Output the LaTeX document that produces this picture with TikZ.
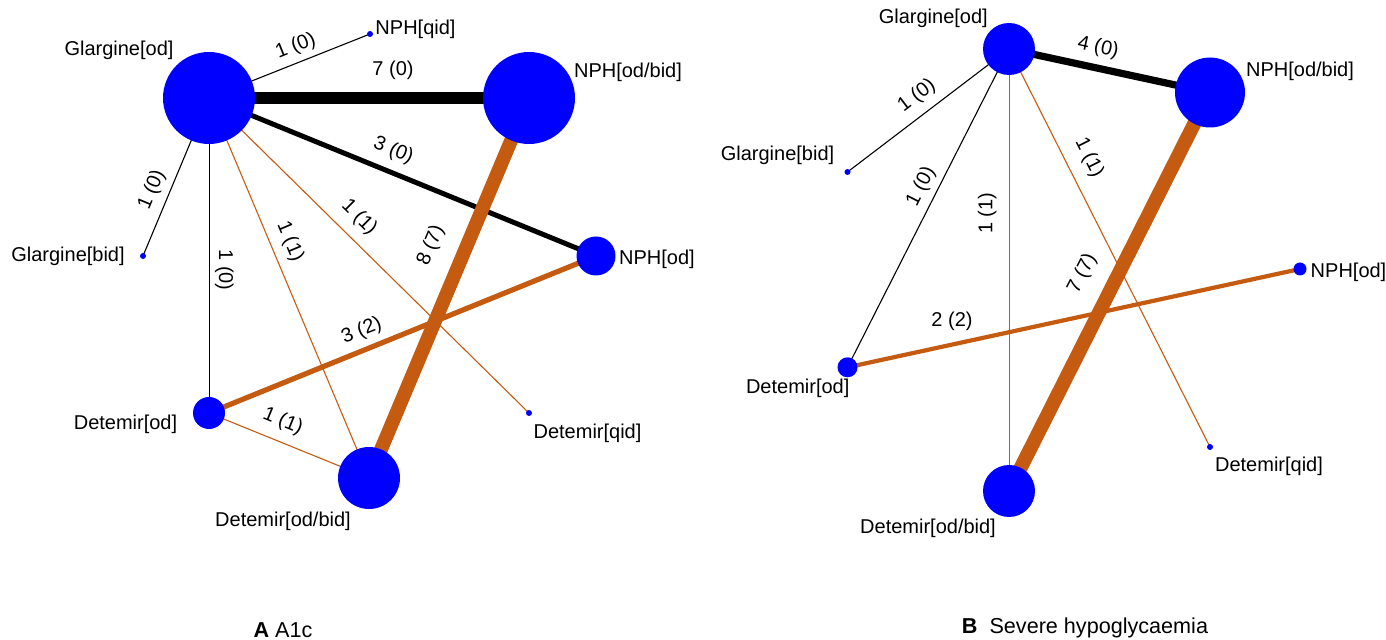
\documentclass[tikz,border=0pt]{standalone}
\usepackage{fontspec}
\setmainfont{Liberation Sans}
\usetikzlibrary{backgrounds}
\definecolor{nmorange}{RGB}{197,90,17}

\begin{document}
\begin{tikzpicture}[line cap=round,line join=round,x=0.5pt,y=-0.5pt,
	trt/.style={circle,fill=blue,inner sep=0pt,minimum size=#1},
	tname/.style={font=\fontsize{10}{12}\selectfont,text=black,inner sep=0pt},
	nstud/.style={font=\fontsize{10}{12}\selectfont,text=black,inner sep=0pt,sloped,above=#1},
	direct/.style={color=black,line width=#1},
	mixed/.style={color=nmorange,line width=#1}]
				\useasboundingbox (0,0) rectangle (1386,640);

				% A: A1c
				\node[trt=46pt] (Aglaod) at (209,98) {};
				\node[trt=3pt] (Anphqid) at (370,34) {};
				\node[trt=46pt] (Anphodbid) at (529,98) {};
				\node[trt=19.5pt] (Anphod) at (596,256) {};
				\node[trt=3pt] (Aglabid) at (143,256) {};
				\node[trt=16pt] (Adetod) at (209,413) {};
				\node[trt=31pt] (Adetodbid) at (369,478) {};
				\node[trt=3pt] (Adetqid) at (529,413) {};

				\node[tname] (lAglaod) at (119,50) {Glargine[od]};
				\node[tname] (lAnphqid) at (415.5,29.5) {NPH[qid]};
				\node[tname] (lAnphodbid) at (628,72.5) {NPH[od/bid]};
				\node[tname] (lAnphod) at (657,259.5) {NPH[od]};
				\node[tname] (lAglabid) at (68,256.5) {Glargine[bid]};
				\node[tname] (lAdetod) at (125.5,424) {Detemir[od]};
				\node[tname] (lAdetodbid) at (283,521) {Detemir[od/bid]};
				\node[tname] (lAdetqid) at (587.5,433) {Detemir[qid]};

				\begin{scope}[on background layer]
				\draw[direct=0.55pt] (Aglaod.center) -- (Anphqid.center) node[nstud=2.95pt,pos=0.575] {1 (0)};
				\draw[direct=6pt] (Aglaod.center) -- (Anphodbid.center) node[nstud=6pt,pos=0.575] {7 (0)};
				\draw[direct=2.5pt] (Aglaod.center) -- (Anphod.center) node[nstud=4.5pt,pos=0.456] {3 (0)};
				\draw[direct=0.55pt] (Aglaod.center) -- (Aglabid.center) node[nstud=3.65pt,pos=0.623] {1 (0)};
				\draw[direct=0.5pt] (Aglaod.center) -- (Adetod.center) node[nstud=2.8pt,pos=0.546] {1 (0)};
				\draw[mixed=0.55pt] (Aglaod.center) -- (Adetodbid.center) node[nstud=4.5pt,pos=0.397] {1 (1)};
				\draw[mixed=0.55pt] (Aglaod.center) -- (Adetqid.center) node[nstud=5.15pt,pos=0.425] {1 (1)};
				\draw[mixed=6.9pt] (Anphodbid.center) -- (Adetodbid.center) node[nstud=8.4pt,pos=0.422] {8 (7)};
				\draw[mixed=2.6pt] (Adetod.center) -- (Anphod.center) node[nstud=3.4pt,pos=0.413] {3 (2)};
				\draw[mixed=0.55pt] (Adetod.center) -- (Adetodbid.center) node[nstud=5.1pt,pos=0.414] {1 (1)};
				\end{scope}

				\node[font=\fontsize{10.8}{13}\selectfont] (capA) at (283,630) {\textbf{A} A1c};

				% B: severe hypoglycaemia
				\node[trt=26pt] (Bglaod) at (1009,49) {};
				\node[trt=35pt] (Bnphodbid) at (1210,92.5) {};
				\node[trt=3pt] (Bglabid) at (847.5,172) {};
				\node[trt=6.5pt] (Bnphod) at (1300,269) {};
				\node[trt=10pt] (Bdetod) at (847.5,367.3) {};
				\node[trt=26pt] (Bdetodbid) at (1009,491) {};
				\node[trt=3pt] (Bdetqid) at (1210,447) {};

				\node[tname] (lBglaod) at (933.3,18) {Glargine[od]};
				\node[tname] (lBnphodbid) at (1300,71.3) {NPH[od/bid]};
				\node[tname] (lBglabid) at (777.5,155.3) {Glargine[bid]};
				\node[tname] (lBnphod) at (1348.5,272.8) {NPH[od]};
				\node[tname] (lBdetod) at (797.7,388.7) {Detemir[od]};
				\node[tname] (lBdetodbid) at (928,528.7) {Detemir[od/bid]};
				\node[tname] (lBdetqid) at (1269,466.2) {Detemir[qid]};

				\begin{scope}[on background layer]
				\draw[direct=3.6pt] (Bglaod.center) -- (Bnphodbid.center) node[nstud=3.75pt,pos=0.422] {4 (0)};
				\draw[direct=0.55pt] (Bglaod.center) -- (Bglabid.center) node[nstud=4.15pt,pos=0.502] {1 (0)};
				\draw[direct=0.55pt] (Bglaod.center) -- (Bdetod.center) node[nstud=3.1pt,pos=0.455] {1 (0)};
				\draw[mixed=0.5pt] (Bdetodbid.center) -- (Bglaod.center) node[nstud=6pt,pos=0.628] {1 (1)};
				\draw[mixed=0.55pt] (Bglaod.center) -- (Bdetqid.center) node[nstud=6.15pt,pos=0.299] {1 (1)};
				\draw[mixed=7pt] (Bnphodbid.center) -- (Bdetodbid.center) node[nstud=8pt,pos=0.491] {7 (7)};
				\draw[mixed=2.1pt] (Bdetod.center) -- (Bnphod.center) node[tname,pos=0.231,above=6pt] {2 (2)};
				\end{scope}

				\node[font=\fontsize{10.8}{13}\selectfont] (capB) at (1085,628) {\textbf{B}~ Severe hypoglycaemia};
\end{tikzpicture}
\end{document}
